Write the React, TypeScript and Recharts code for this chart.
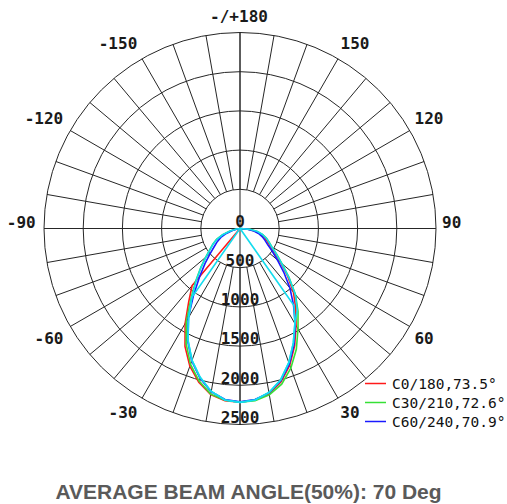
import React from 'react';
import { RadarChart, Radar, PolarGrid, PolarAngleAxis, PolarRadiusAxis, Legend } from 'recharts';

// Photometric angles (0 = straight down), 5° steps
const ANGLES = [-90, -85, -80, -75, -70, -65, -60, -55, -50, -45, -40, -35, -30, -25, -20, -15, -10, -5, 0,
  5, 10, 15, 20, 25, 30, 35, 40, 45, 50, 55, 60, 65, 70, 75, 80, 85, 90];

// Luminous intensity (cd) per C-plane
const RED = [0, 0, 0, 0, 0, 0, 0, 0, 0, 0, 950, 1140, 1400, 1660, 1870, 2030, 2150, 2205, 2215,
  2195, 2140, 2025, 1855, 1650, 1430, 1240, 1060, 860, 680, 545, 445, 385, 330, 270, 200, 110, 0];
const GREEN = [0, 0, 60, 140, 240, 330, 400, 470, 570, 710, 880, 1090, 1370, 1625, 1845, 2015, 2145, 2200, 2215,
  2205, 2155, 2055, 1895, 1700, 1480, 1290, 1100, 885, 700, 570, 470, 410, 360, 300, 230, 130, 0];
const BLUE = [0, 0, 35, 100, 185, 270, 335, 400, 495, 630, 800, 1030, 1320, 1580, 1800, 1975, 2115, 2190, 2210,
  2190, 2130, 2010, 1840, 1630, 1410, 1190, 990, 790, 620, 500, 405, 350, 300, 245, 180, 95, 0];
const CYAN_ARC = [0, 0, 55, 135, 235, 325, 395, 465, 565, 705, 870, 1070, 1310, 1570, 1790, 1965, 2110, 2195, 2218,
  2195, 2125, 2000, 1820, 1610, 1400, 1275, 1095, 880, 695, 565, 465, 405, 355, 295, 225, 125, 0];
const CYAN_RAY = [0, 0, 0, 0, 0, 0, 0, 0, 0, 0, 0, 1070, 1310, 1570, 1790, 1965, 2110, 2195, 2218,
  2195, 2125, 2000, 1820, 1610, 1400, 1200, 0, 0, 0, 0, 0, 0, 0, 0, 0, 0, 0];

const SERIES_NAMES = ['C0/180,73.5°', 'C30/210,72.6°', 'C60/240,70.9°'];

// Axis ticks
const ANGLE_TICKS = [-180, -170, -160, -150, -140, -130, -120, -110, -100, -90, -80, -70, -60, -50, -40, -30, -20, -10,
  0, 10, 20, 30, 40, 50, 60, 70, 80, 90, 100, 110, 120, 130, 140, 150, 160, 170];
const LABELED_ANGLES = [-180, -150, -120, -90, -60, -30, 30, 60, 90, 120, 150];
const AXIS_ANGLES = [-180, -90, 0, 90];
const RING_TICKS = [0, 500, 1000, 1500, 2000, 2500];

const TITLE = 'AVERAGE BEAM ANGLE(50%): 70 Deg';

const DATA = ANGLES.map((a, i) => ({
  angle: a,
  red: RED[i],
  green: GREEN[i],
  blue: BLUE[i],
  cyanArc: CYAN_ARC[i],
  cyanRay: CYAN_RAY[i],
}));

const W = 507;
const H = 470;
const CX = 240;
const CY = 228.5;
const OUTER_R = 196;
const R_MAX = RING_TICKS[RING_TICKS.length - 1];
const INNER_R = (OUTER_R * RING_TICKS[1]) / R_MAX;

const LABEL_FONT = 'DejaVu Sans Mono';

// small typographic nudges for the angle labels (by |angle|)
const LABEL_NUDGE: Record<number, [number, number]> = {
  180: [-1, 2], 150: [8, 0.5], 120: [3.7, -3.5], 90: [-2.3, -5.8], 60: [-1.3, 2.5], 30: [3, -1.5],
};

const angleLabel = (v: number) => (v === -180 ? '-/+180' : String(v));

const AngleTick = (props: any) => {
  const { x, y, payload } = props;
  const v = payload.value;
  if (!LABELED_ANGLES.includes(v)) return null;
  const coord = payload.coordinate;
  const rad = (-coord * Math.PI) / 180;
  const extra = 10; // tick anchor sits at outerRadius + 8
  let tx = x + Math.cos(rad) * extra;
  let ty = y + Math.sin(rad) * extra;
  const nudge = LABEL_NUDGE[Math.abs(v)] || [0, 0];
  if (v < 0 && v !== -180) {
    tx += -nudge[0] - 7;
  } else {
    tx += nudge[0];
  }
  ty += nudge[1];
  return (
    <text x={tx} y={ty} textAnchor="middle" dominantBaseline="central"
      fontFamily={LABEL_FONT} fontWeight="bold" fontSize={16} fill="#1a1a1a">
      {angleLabel(v)}
    </text>
  );
};

const RingTick = (props: any) => {
  const { x, y, payload } = props;
  return (
    <text x={x} y={y - 7.3} textAnchor="middle" dominantBaseline="central"
      fontFamily={LABEL_FONT} fontWeight="bold" fontSize={16} fill="#1a1a1a">
      {payload.value}
    </text>
  );
};

const LegendContent = (props: any) => {
  const { payload } = props;
  const items = (payload || []).filter((p: any) => SERIES_NAMES.includes(p.value));
  return (
    <div>
      {items.map((p: any) => (
        <div key={p.value} style={{ display: 'flex', alignItems: 'center', height: 19 }}>
          <svg width={27} height={19} style={{ flex: 'none' }}>
            <line x1={0} x2={21} y1={9.5} y2={9.5} stroke={p.color} strokeWidth={1.5} />
          </svg>
          <span style={{ fontFamily: LABEL_FONT, fontSize: 14.5, color: '#111', whiteSpace: 'nowrap' }}>{p.value}</span>
        </div>
      ))}
    </div>
  );
};

export default function App() {
  return (
    <div style={{ position: 'absolute', left: 0, top: 0, width: 507, height: 504, overflow: 'hidden', background: '#fff' }}>
      <div style={{ position: 'absolute', left: 0, top: 0 }}>
        <RadarChart width={W} height={H} data={DATA} cx={CX} cy={CY}
          innerRadius={INNER_R} outerRadius={OUTER_R} startAngle={90} endAngle={450}
          margin={{ top: 0, right: 0, bottom: 0, left: 0 }}>
          <PolarGrid gridType="circle" radialLines stroke="#262626" strokeOpacity={1} />
          <PolarAngleAxis dataKey="angle" type="number" domain={[-180, 180]} ticks={ANGLE_TICKS}
            tickCount={37} allowDataOverflow axisLine={false} tickLine={false} tick={AngleTick} />
          <PolarRadiusAxis type="number" domain={[RING_TICKS[1], R_MAX]} tickCount={5}
            allowDataOverflow axisLine={false} tick={false} />
        </RadarChart>
      </div>
      <div style={{ position: 'absolute', left: 0, top: 0 }}>
        <RadarChart width={W} height={H} data={DATA} cx={CX} cy={CY}
          innerRadius={0} outerRadius={OUTER_R} startAngle={90} endAngle={450}
          margin={{ top: 0, right: 0, bottom: 0, left: 0 }}>
          <PolarGrid gridType="circle" radialLines polarRadius={[]} stroke="#262626" strokeOpacity={1} />
          <PolarAngleAxis dataKey="angle" type="number" domain={[-180, 180]} ticks={AXIS_ANGLES}
            tickCount={5} allowDataOverflow axisLine={false} tickLine={false} tick={false} />
          <PolarRadiusAxis type="number" domain={[0, R_MAX]} ticks={RING_TICKS} tickCount={6} angle={-90}
            allowDataOverflow axisLine={false} tick={RingTick} />
          <Radar name={SERIES_NAMES[0]} dataKey="red" stroke="#ff1a1a" strokeWidth={1.6} fill="none" fillOpacity={0} isAnimationActive={false} dot={false} />
          <Radar name={SERIES_NAMES[1]} dataKey="green" stroke="#36e036" strokeWidth={1.6} fill="none" fillOpacity={0} isAnimationActive={false} dot={false} />
          <Radar name={SERIES_NAMES[2]} dataKey="blue" stroke="#1a1aff" strokeWidth={1.6} fill="none" fillOpacity={0} isAnimationActive={false} dot={false} />
          <Radar name="cyanArc" dataKey="cyanArc" legendType="none" stroke="#14dcee" strokeWidth={1.6} fill="none" fillOpacity={0} isAnimationActive={false} dot={false} />
          <Radar name="cyanRay" dataKey="cyanRay" legendType="none" stroke="#14dcee" strokeWidth={1.6} fill="none" fillOpacity={0} isAnimationActive={false} dot={false} />
          <Legend layout="vertical" align="center" verticalAlign="middle" content={LegendContent}
            wrapperStyle={{ left: 365, top: 374, width: 142, height: 57, overflow: 'visible' }} />
        </RadarChart>
      </div>
      <div style={{ position: 'absolute', left: 0, top: 480, width: 497, textAlign: 'center',
        fontFamily: '"Liberation Sans", Arial, sans-serif', fontWeight: 'bold', fontSize: 21,
        color: '#5a5a5a', lineHeight: '24px', whiteSpace: 'nowrap' }}>
        {TITLE}
      </div>
    </div>
  );
}
